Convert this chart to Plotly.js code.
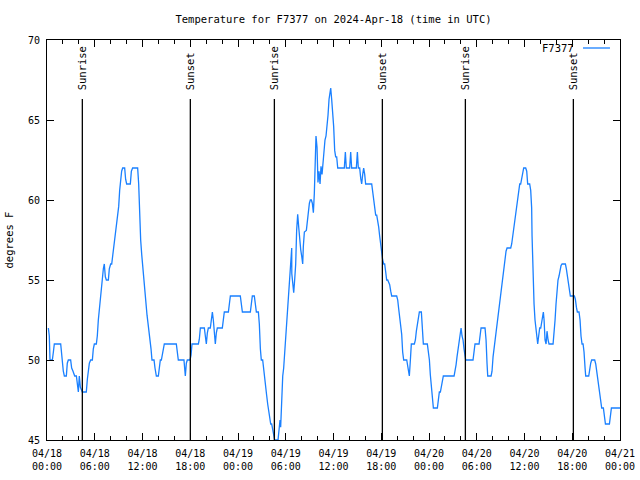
<!DOCTYPE html>
<html>
<head>
<meta charset="utf-8">
<script src="https://cdn.plot.ly/plotly-3.0.1.min.js"></script>
<style>html,body{margin:0;padding:0;background:#fff;}#chart{width:640px;height:480px;}</style>
</head>
<body>
<div id="chart"></div>
<script>
// ---- data (hours after 2024-04-18 00:00 UTC, temperature in °F) ----
const seriesName = "F7377";
const chartTitle = "Temperature for F7377 on 2024-Apr-18 (time in UTC)";
const yTitle = "degrees F";
const startDate = "2024-04-18";

const hoursFromStart = [
  0.17,0.29,0.38,0.67,0.80,0.92,1.72,1.88,2.05,2.18,2.43,2.55,2.68,2.97,3.10,3.27,3.48,3.69,3.81,3.94,4.06,4.19,4.44,4.94,5.07,5.19,5.32,5.49,5.70,5.82,5.95,6.20,6.32,6.45,6.58,6.70,6.83,6.95,7.08,7.20,7.33,7.46,7.71,7.83,8.00,8.13,8.25,8.38,8.50,8.63,8.75,8.88,9.01,9.13,9.26,9.38,9.51,9.76,9.88,10.01,10.47,10.60,10.76,11.39,11.52,11.64,11.77,11.90,12.06,12.19,12.31,12.44,12.57,12.69,12.82,12.94,13.07,13.19,13.45,13.57,13.74,13.99,14.12,14.24,14.37,14.49,14.62,14.74,16.25,16.38,16.50,17.21,17.38,17.51,17.63,17.97,
  18.10,18.22,19.02,19.14,19.27,19.77,19.90,20.02,20.15,20.27,20.52,20.65,20.78,20.90,21.03,21.15,21.28,21.40,22.03,22.16,22.28,22.79,22.91,23.04,24.29,24.42,24.55,25.55,25.68,25.80,26.05,26.18,26.31,26.56,26.68,26.81,26.93,27.10,27.23,27.35,27.48,27.60,27.73,27.85,27.98,28.11,28.23,28.36,28.48,28.61,29.03,29.15,29.28,
  29.36,29.49,29.62,29.74,29.87,29.99,30.12,30.24,30.37,30.49,30.62,30.75,30.76,30.87,31.00,31.12,31.25,31.37,31.50,31.63,31.75,31.88,32.00,32.13,32.21,32.34,32.59,32.71,32.84,32.97,33.09,33.22,33.34,33.47,33.59,33.72,33.80,33.93,34.05,34.18,34.31,34.43,34.56,34.68,34.81,34.93,35.06,35.19,35.31,35.44,35.56,35.65,35.77,35.90,36.02,36.15,36.27,36.40,36.53,37.36,37.49,37.61,38.03,38.16,38.28,38.87,39.00,39.12,39.29,39.42,39.54,39.67,39.79,39.92,40.04,40.80,
  40.93,41.05,41.18,41.30,41.43,41.55,41.68,41.80,41.93,42.06,42.18,42.31,42.43,42.56,42.68,42.81,42.94,43.06,43.19,43.31,43.94,44.07,44.19,44.32,44.44,44.57,44.69,44.82,45.20,45.32,45.45,45.53,45.66,45.78,46.16,46.29,46.41,46.54,46.66,46.79,47.04,47.17,47.29,47.79,47.92,48.05,48.17,48.30,48.42,48.55,49.05,49.18,49.30,49.43,49.55,49.68,49.80,51.15,51.27,51.40,51.52,51.65,51.77,51.90,
  52.03,52.15,52.28,52.40,52.53,52.61,53.53,53.66,53.78,54.29,54.41,54.54,55.04,55.17,55.29,55.38,55.80,55.92,56.05,56.17,56.30,56.42,56.55,56.67,56.80,56.93,57.05,57.18,57.30,57.43,57.55,57.68,57.81,58.27,58.39,58.52,58.64,58.77,58.89,59.02,59.15,59.27,59.40,59.52,59.65,59.77,59.90,60.15,60.28,60.40,60.65,60.78,60.90,60.95,61.07,61.20,61.32,61.45,61.58,61.66,61.78,61.91,62.04,62.16,62.29,62.37,62.46,62.58,62.71,62.83,62.96,63.08,63.59,63.71,63.84,63.96,64.09,64.21,64.34,64.47,64.59,64.72,65.14,65.26,65.39,65.51,65.64,65.76,66.27,66.39,66.52,66.64,66.85,66.98,67.10,67.23,67.36,67.48,67.61,67.69,68.07,68.19,68.32,68.44,68.82,68.95,69.07,69.20,69.33,69.45,69.58,69.70,69.91,70.04,70.17,70.67,70.80,70.92,72.00
];
const tempF = [
  52,51.5,50,50,50.5,51,51,50,49.3,49,49,49.8,50,50,49.5,49.3,49,49,48.3,48,49,48.3,48,48,48.8,49.3,49.8,50,50,50.7,51,51,51.5,52.5,53.2,53.7,54.2,55.2,55.7,56,55.2,55,55,55.7,56,56,56.5,56.9,57.3,57.8,58.4,58.9,59.6,60.6,61.3,61.8,62,62,61.3,61,61,61.8,62,62,61,59.1,57.5,56.6,55.6,54.7,53.9,53.4,52.8,52.3,51.8,51.3,50.7,50,50,49.5,49,49,49.8,50,50,50.3,50.7,51,51,50.3,50,50,49,49.8,50,50,
  50.3,51,51,51.3,52,52,51.5,51,51.7,52,52,52.7,53,52.5,51.7,51,51.7,52,52,52.7,53,53,53.5,54,54,53.5,53,53,53.5,54,54,53.5,53,53,52.25,50.7,50,50,49.3,48.8,48.3,47.8,47.25,46.8,46.25,46,46,45.7,45.25,45,45,45.7,46.25,
  45.8,48.2,49,49.5,50.4,51.5,52.5,53.3,54,55,56,57,55.4,54.8,54.2,55,56,58.1,59.1,58.3,57.5,56.9,56.5,56,57.1,58,58.1,58.8,59.3,59.8,60,60,59.8,59.2,60.4,62.7,64,63.3,61.1,61.8,61,62.1,61.6,62.3,63.1,63.75,64,64.6,65.3,66.3,66.8,67,66.3,65.6,64.6,63.1,62.7,62.7,62,62,63,62,62,63,62,62,63,62,62,61.35,61,61.6,62,61.6,61,61,
  60.4,59.8,59.3,59.06,59.06,58.75,58.3,57.75,57.2,56.9,56.25,56,56,55.5,55,55,54.8,54.7,54.3,54,54,53.75,53.2,52.75,52.3,51.6,50.5,50,50,49.7,49.3,49,50,51,51,51.25,51.8,52.3,52.75,53,53,52.1,51,51,50.6,50,49.06,48.3,47.7,47,47,47.7,48,48,48.3,48.75,49,49,49.3,49.7,50.2,50.7,51.25,51.7,
  52,51.5,51.25,50.7,50.25,50,50,50.5,51,51,51.5,52,52,51.25,49.8,49,49,49.3,50.2,50.7,51.25,51.8,52.3,52.75,53.2,53.75,54.3,54.8,55.25,55.7,56.25,56.8,57,57,57.25,57.75,58.3,58.8,59.3,59.8,60.3,60.8,61,61,61.3,61.8,62,62,61.8,61,61,60.6,59.5,57.75,55.25,53.5,52.5,51.8,51.25,51,51.5,52,52,52.3,52.75,53,52.5,51.25,51,51.8,51.25,51,51,51.6,52.5,53.5,54.5,55,55.25,55.7,55.9,56,56,55.7,55.25,54.75,54.2,54,54,53.8,53.3,53,53,52.5,51.5,51,51,50.5,49.5,49,49,49.5,49.8,50,50,49.75,49.3,48.75,48.2,47.7,47.2,47,47,46.5,46,46,46.5,47,47
];

// sunrise / sunset markers (hours after start)
const sunEventHours = [4.44, 18.01, 28.57, 42.14, 52.57, 66.14];
const sunEventLabels = ["Sunrise", "Sunset", "Sunrise", "Sunset", "Sunrise", "Sunset"];

// x tick labels every 6 hours
const xTickHours = [0, 6, 12, 18, 24, 30, 36, 42, 48, 54, 60, 66, 72];
const xTickLabels = ["04/18<br>00:00","04/18<br>06:00","04/18<br>12:00","04/18<br>18:00",
  "04/19<br>00:00","04/19<br>06:00","04/19<br>12:00","04/19<br>18:00",
  "04/20<br>00:00","04/20<br>06:00","04/20<br>12:00","04/20<br>18:00","04/21<br>00:00"];
const yRange = [45, 70];

// ---- helpers ----
const baseMs = Date.UTC(2024, 3, 18);
function pad(n){ return (n < 10 ? "0" : "") + n; }
function hToDate(h){
  const d = new Date(baseMs + Math.round(h * 3600) * 1000);
  return d.getUTCFullYear() + "-" + pad(d.getUTCMonth()+1) + "-" + pad(d.getUTCDate()) + " " +
         pad(d.getUTCHours()) + ":" + pad(d.getUTCMinutes()) + ":" + pad(d.getUTCSeconds());
}

const font = "DejaVu Sans Mono, monospace";
const lineColor = "#1a80ff";

const shapes = sunEventHours.map(h => ({
  type: "line", xref: "x", yref: "paper",
  x0: hToDate(h), x1: hToDate(h), y0: 0, y1: 0.8525,
  line: {color: "#000", width: 1.3}
}));
shapes.push({type: "line", xref: "paper", yref: "paper",
  x0: 0.9354, x1: 0.9825, y0: 0.98, y1: 0.98, line: {color: lineColor, width: 1.3}});

const annotations = sunEventHours.map((h, i) => ({
  x: hToDate(h), xref: "x", y: 0.87, yref: "paper",
  text: sunEventLabels[i], textangle: -90, showarrow: false,
  xanchor: "center", yanchor: "bottom",
  font: {family: font, size: 10.5, color: "#000"}
}));
annotations.push({x: 0.9225, xref: "paper", y: 0.98, yref: "paper", text: seriesName,
  showarrow: false, xanchor: "right", yanchor: "middle",
  font: {family: font, size: 10.5, color: "#000"}});

const trace = {
  x: hoursFromStart.map(hToDate),
  y: tempF,
  type: "scatter", mode: "lines", name: seriesName,
  line: {color: lineColor, width: 1.3},
  hoverinfo: "skip"
};

const layout = {
  width: 640, height: 480,
  margin: {l: 47, r: 20, t: 40, b: 40, pad: 0},
  paper_bgcolor: "#fff", plot_bgcolor: "#fff",
  showlegend: false,
  font: {family: font, size: 10, color: "#000"},
  title: {text: chartTitle, x: 0.5, xref: "paper", y: 0.96, yref: "container",
          xanchor: "center", yanchor: "middle", font: {family: font, size: 10.5, color: "#000"}},
  xaxis: {
    type: "date",
    range: [hToDate(0), hToDate(72)],
    tickmode: "array",
    tickvals: xTickHours.map(hToDate),
    ticktext: xTickLabels,
    ticks: "inside", ticklen: 7, tickwidth: 1, tickcolor: "#000",
    minor: {tickmode: "linear", tick0: startDate, dtick: 7200000, ticks: "inside", ticklen: 4, tickcolor: "#000", showgrid: false},
    showline: true, linecolor: "#000", linewidth: 1, mirror: "allticks",
    showgrid: false, zeroline: false,
    tickfont: {family: font, size: 10, color: "#000"},
    ticklabelstandoff: 4,
    fixedrange: true
  },
  yaxis: {
    range: yRange, dtick: 5, tick0: 45,
    ticks: "inside", ticklen: 7, tickwidth: 1, tickcolor: "#000",
    showline: true, linecolor: "#000", linewidth: 1, mirror: "allticks",
    showgrid: false, zeroline: false,
    tickfont: {family: font, size: 10, color: "#000"},
    ticklabelstandoff: 4,
    title: {text: yTitle, standoff: 12, font: {family: font, size: 10.5, color: "#000"}},
    automargin: false,
    fixedrange: true
  },
  shapes: shapes,
  annotations: annotations
};

Plotly.newPlot("chart", [trace], layout, {displayModeBar: false, staticPlot: true});
</script>
</body>
</html>
